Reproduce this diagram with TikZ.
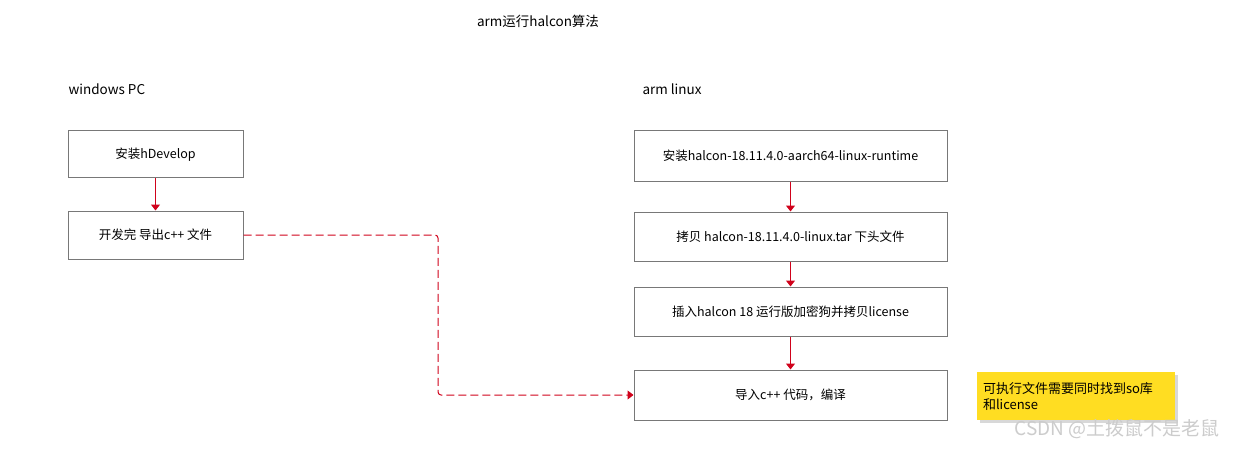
\documentclass[tikz,border=0pt]{standalone}
\usepackage{fontspec}
\setmainfont{Noto Sans CJK SC}
\usetikzlibrary{arrows.meta,shadows}
\definecolor{linkred}{RGB}{208,2,27}
\definecolor{boxgray}{RGB}{120,120,120}
\definecolor{noteyellow}{RGB}{255,221,34}

\begin{document}
\begin{tikzpicture}[x=1pt,y=-1pt,
    font=\fontsize{12.5}{14}\selectfont,
    stepbox/.style={draw=boxgray,line width=1pt,minimum height=48pt},
    heading/.style={font=\fontsize{13.5}{15}\selectfont},
    link/.style={linkred,line width=1pt,-{Triangle[width=9pt,length=6pt]}}]
\useasboundingbox (0,0) rectangle (1238,449);
\fill[white] (0,0) rectangle (1238,449);
% titles
\node[heading] (title) at (538,21) {arm运行halcon算法};
\node[heading,anchor=west] (pc) at (65,89) {windows PC};
\node[heading,anchor=west] (arm) at (639,89) {arm linux};
% windows side
\node[stepbox,minimum width=175pt,minimum height=47pt] (dev) at (155.5,154.5) {安装hDevelop};
\node[stepbox,minimum width=175pt] (exp) at (155.5,235) {开发完 导出c++ 文件};
% arm side
\node[stepbox,minimum width=313pt,minimum height=50pt] (rt) at (790.5,156) {安装halcon-18.11.4.0-aarch64-linux-runtime};
\node[stepbox,minimum width=313pt,minimum height=49pt] (hdr) at (790.5,236.5) {拷贝 halcon-18.11.4.0-linux.tar 下头文件};
\node[stepbox,minimum width=313pt,minimum height=49pt] (lic) at (790.5,311.5) {插入halcon 18 运行版加密狗并拷贝license};
\node[stepbox,minimum width=313pt,minimum height=50pt] (bld) at (790.5,395) {导入c++ 代码，编译};
% note
\node[fill=noteyellow,drop shadow={shadow xshift=3pt,shadow yshift=-3pt,opacity=0.3},
    minimum width=198pt,minimum height=48pt,align=left,text width=186pt,inner sep=0pt,
    font=\fontsize{13}{16}\selectfont] (note) at (1076,396)
    {可执行文件需要同时找到so库\\和license};
\node[anchor=east,text=black!20,font=\fontsize{19}{21}\selectfont] (mark) at (1223,429) {CSDN @土拨鼠不是老鼠};
% connectors
\draw[link] (dev) -- (exp);
\draw[link] (rt) -- (hdr);
\draw[link] (hdr) -- (lic);
\draw[link] (lic) -- (bld);
\coordinate (bend) at (438,0);
\draw[link,dash pattern=on 8pt off 4pt,rounded corners=3pt] (exp.east) -- (exp.east -| bend) -- (bend |- bld.west) -- (bld.west);
\end{tikzpicture}
\end{document}
